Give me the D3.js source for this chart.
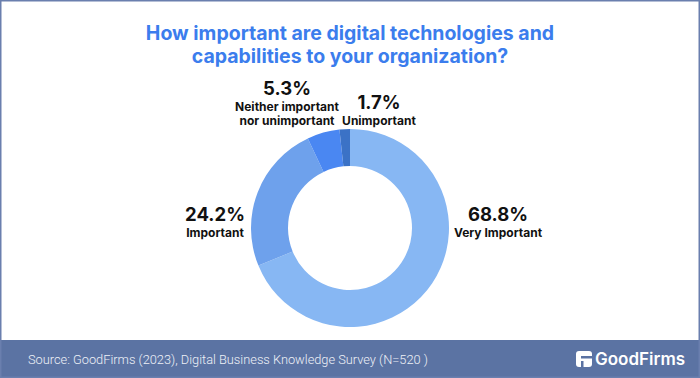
<!DOCTYPE html>
<html lang="en">
  <head>
    <meta charset="UTF-8" />
    <title>digital technologies importance</title>
    <style type="text/css">
      html,
      body {
        margin: 0;
        padding: 0;
        background: #fff;
        font-family: "Inter", "Roboto", sans-serif;
      }

      svg {
        display: block;
      }
    </style>
  </head>
  <body>
    <div id="chart"></div>

    <script src="https://cdn.jsdelivr.net/npm/d3@7/dist/d3.min.js"></script>
    <script>
      // === Data === //

      var categories = ["Very Important", "Important", "Neither important nor unimportant", "Unimportant"];
      var values = [68.8, 24.2, 5.3, 1.7];
      var valueLabels = ["68.8%", "24.2%", "5.3%", "1.7%"];
      var labelLines = [["Very Important"], ["Important"], ["Neither important", "nor unimportant"], ["Unimportant"]];

      // === Layout === //

      var width = 700,
        height = 378;
      var footerH = 38;
      var cx = 350,
        cy = 228;
      var outerR = 99,
        innerR = 62;

      var colours = d3
        .scaleOrdinal()
        .domain(categories)
        .range(["#87b7f3", "#6ea1ec", "#4a87f2", "#3b72c6"]);

      // label anchor points (centre of text block, baseline of the % line)
      var labelPos = [
        [498, 221],
        [215, 221],
        [287, 95],
        [379, 109]
      ];

      var svg = d3
        .select("#chart")
        .append("svg")
        .attr("width", width)
        .attr("height", height);

      svg
        .append("rect")
        .attr("width", width)
        .attr("height", height)
        .attr("fill", "#fff");

      // === Title === //

      var title = svg
        .append("text")
        .attr("text-anchor", "middle")
        .attr("fill", "#3b7ded")
        .attr("font-weight", 700)
        .attr("font-size", 19.5);

      title.append("tspan").attr("x", cx).attr("y", 40).text("How important are digital technologies and");
      title.append("tspan").attr("x", cx).attr("y", 63).text("capabilities to your organization?");

      // === Donut === //

      var pie = d3
        .pie()
        .sort(null)
        .value(function(d) {
          return d.value;
        });

      var arc = d3.arc().innerRadius(innerR).outerRadius(outerR);

      var data = categories.map(function(c, i) {
        return { name: c, value: values[i] };
      });

      svg
        .append("g")
        .attr("transform", "translate(" + cx + "," + cy + ")")
        .selectAll("path")
        .data(pie(data))
        .enter()
        .append("path")
        .attr("d", arc)
        .attr("fill", function(d) {
          return colours(d.data.name);
        });

      // === Labels === //

      var labels = svg
        .append("g")
        .selectAll("g")
        .data(data)
        .enter()
        .append("g")
        .attr("transform", function(d, i) {
          return "translate(" + labelPos[i][0] + "," + labelPos[i][1] + ")";
        });

      labels
        .append("text")
        .attr("text-anchor", "middle")
        .attr("font-weight", 700)
        .attr("font-size", 18.5)
        .attr("fill", "#111")
        .text(function(d, i) {
          return valueLabels[i];
        });

      labels.each(function(d, i) {
        var t = d3
          .select(this)
          .append("text")
          .attr("text-anchor", "middle")
          .attr("font-weight", 700)
          .attr("font-size", 12)
          .attr("fill", "#111");
        labelLines[i].forEach(function(line, j) {
          t.append("tspan")
            .attr("x", 0)
            .attr("y", 16 + j * 14)
            .text(line);
        });
      });

      // === Footer === //

      svg
        .append("rect")
        .attr("x", 0)
        .attr("y", height - footerH)
        .attr("width", width)
        .attr("height", footerH)
        .attr("fill", "#5b73a3");

      svg
        .append("text")
        .attr("x", 28)
        .attr("y", height - footerH / 2 + 5)
        .attr("fill", "#eef1f7")
        .attr("font-size", 12.8)
        .attr("font-weight", 300)
        .attr("font-family", "Roboto, sans-serif")
        .text("Source: GoodFirms (2023), Digital Business Knowledge Survey (N=520 )");

      // logo
      var logo = svg.append("g").attr("transform", "translate(576," + (height - footerH / 2 - 8) + ")");
      logo
        .append("rect")
        .attr("width", 16)
        .attr("height", 16)
        .attr("rx", 3)
        .attr("fill", "#fff");
      logo
        .append("rect")
        .attr("x", 5)
        .attr("y", 5)
        .attr("width", 11)
        .attr("height", 2.5)
        .attr("fill", "#5b73a3");
      logo
        .append("rect")
        .attr("x", 5)
        .attr("y", 10)
        .attr("width", 2.5)
        .attr("height", 6)
        .attr("fill", "#5b73a3");
      logo
        .append("text")
        .attr("x", 19)
        .attr("y", 14)
        .attr("fill", "#fff")
        .attr("font-weight", 600)
        .attr("font-size", 17)
        .text("GoodFirms");

      // frame
      svg
        .append("rect")
        .attr("x", 0.75)
        .attr("y", 0.75)
        .attr("width", width - 1.5)
        .attr("height", height - 1.5)
        .attr("fill", "none")
        .attr("stroke", "#6a7fae")
        .attr("stroke-width", 1.5);
    </script>
  </body>
</html>
